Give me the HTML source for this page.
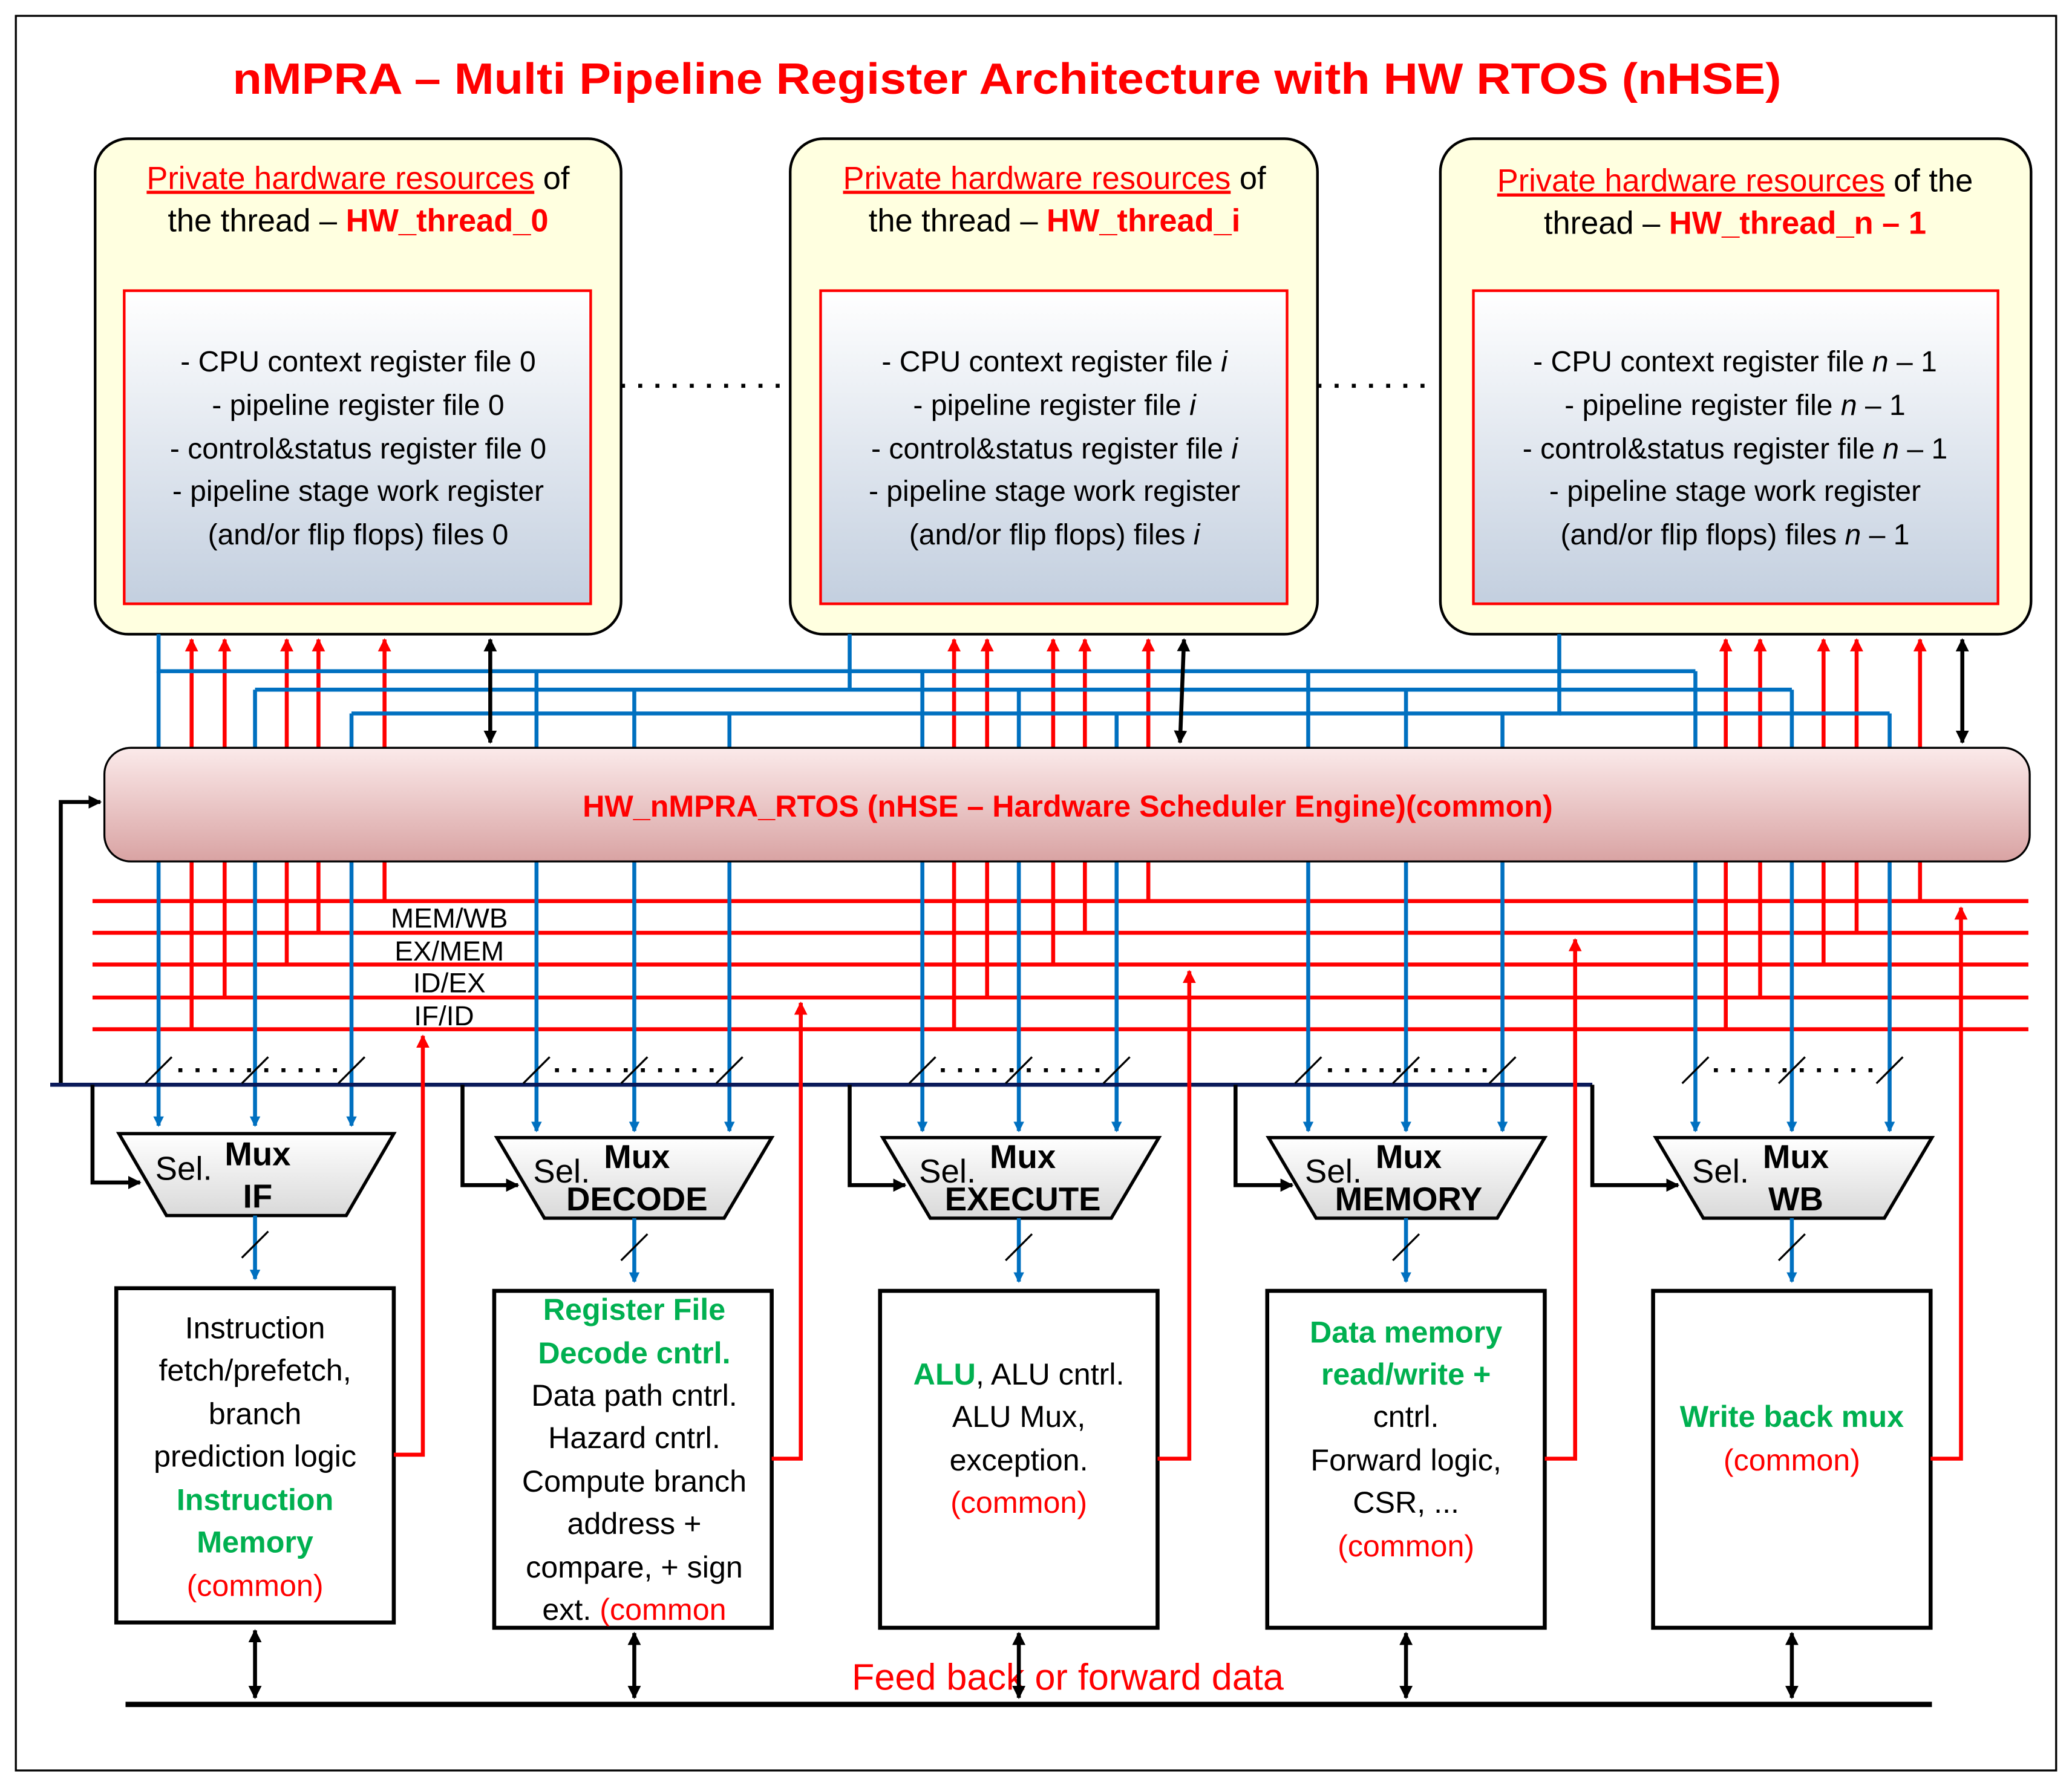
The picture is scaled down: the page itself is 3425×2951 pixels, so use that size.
<!DOCTYPE html>
<html><head><meta charset="utf-8"><style>html,body{margin:0;padding:0;background:#fff}svg{display:block}</style></head>
<body>
<svg xmlns="http://www.w3.org/2000/svg" width="3425" height="2951" viewBox="0 0 1568 1351" font-family="'Liberation Sans',sans-serif">
<defs>
<linearGradient id="gb" x1="0" y1="0" x2="0" y2="1"><stop offset="0" stop-color="#ffffff"/><stop offset="1" stop-color="#c3cfdf"/></linearGradient>
<linearGradient id="gr" x1="0" y1="0" x2="0" y2="1"><stop offset="0" stop-color="#fbeaea"/><stop offset="1" stop-color="#d9a3a3"/></linearGradient>
<linearGradient id="gm" x1="0" y1="0" x2="0" y2="1"><stop offset="0" stop-color="#ffffff"/><stop offset="1" stop-color="#d9d9d9"/></linearGradient>
<marker id="ab" markerWidth="8" markerHeight="8" refX="7" refY="4" orient="auto" markerUnits="userSpaceOnUse"><path d="M0,0 L8,4 L0,8 z" fill="#0070c0"/></marker>
<marker id="ar" markerWidth="10" markerHeight="10" refX="9" refY="5" orient="auto" markerUnits="userSpaceOnUse"><path d="M0,0 L10,5 L0,10 z" fill="#ff0000"/></marker>
<marker id="ak" markerWidth="10" markerHeight="10" refX="9" refY="5" orient="auto-start-reverse" markerUnits="userSpaceOnUse"><path d="M0,0 L10,5 L0,10 z" fill="#000"/></marker>
</defs>
<rect x="12" y="12" width="1544" height="1328" fill="#fff" stroke="#000" stroke-width="1.5"/>
<text x="176" y="71" font-size="33" font-weight="bold" fill="#ff0000" textLength="1172" lengthAdjust="spacingAndGlyphs">nMPRA – Multi Pipeline Register Architecture with HW RTOS (nHSE)</text>

<g stroke="#000" stroke-width="2" fill="#ffffe0">
<rect x="72" y="105" width="398" height="375" rx="25"/>
<rect x="598" y="105" width="399" height="375" rx="25"/>
<rect x="1090" y="105" width="447" height="375" rx="25"/>
</g>
<g stroke="#ff0000" stroke-width="2" fill="url(#gb)">
<rect x="94" y="220" width="353" height="237"/>
<rect x="621" y="220" width="353" height="237"/>
<rect x="1115" y="220" width="397" height="237"/>
</g>
<g font-size="24" text-anchor="middle">
<text x="271" y="143"><tspan fill="#ff0000" text-decoration="underline">Private hardware resources</tspan> of</text>
<text x="271" y="175">the thread – <tspan fill="#ff0000" font-weight="bold">HW_thread_0</tspan></text>
<text x="798" y="143"><tspan fill="#ff0000" text-decoration="underline">Private hardware resources</tspan> of</text>
<text x="798" y="175">the thread – <tspan fill="#ff0000" font-weight="bold">HW_thread_i</tspan></text>
<text x="1313" y="145"><tspan fill="#ff0000" text-decoration="underline">Private hardware resources</tspan> of the</text>
<text x="1313" y="177">thread – <tspan fill="#ff0000" font-weight="bold">HW_thread_n – 1</tspan></text>
</g>
<g font-size="22" text-anchor="middle">
<text x="271" y="281">- CPU context register file 0</text>
<text x="271" y="314">- pipeline register file 0</text>
<text x="271" y="347">- control&amp;status register file 0</text>
<text x="271" y="379">- pipeline stage work register</text>
<text x="271" y="412">(and/or flip flops) files 0</text>
<text x="798" y="281">- CPU context register file <tspan font-style="italic">i</tspan></text>
<text x="798" y="314">- pipeline register file <tspan font-style="italic">i</tspan></text>
<text x="798" y="347">- control&amp;status register file <tspan font-style="italic">i</tspan></text>
<text x="798" y="379">- pipeline stage work register</text>
<text x="798" y="412">(and/or flip flops) files <tspan font-style="italic">i</tspan></text>
<text x="1313" y="281">- CPU context register file <tspan font-style="italic">n</tspan> – 1</text>
<text x="1313" y="314">- pipeline register file <tspan font-style="italic">n</tspan> – 1</text>
<text x="1313" y="347">- control&amp;status register file <tspan font-style="italic">n</tspan> – 1</text>
<text x="1313" y="379">- pipeline stage work register</text>
<text x="1313" y="412">(and/or flip flops) files <tspan font-style="italic">n</tspan> – 1</text>
</g>
<g stroke="#000" stroke-width="3" stroke-dasharray="3 10" fill="none">
<line x1="470" y1="292" x2="592" y2="292"/><line x1="997" y1="292" x2="1085" y2="292"/>
</g>

<g stroke="#ff0000" stroke-width="3">
<line x1="70" y1="682" x2="1535" y2="682"/><line x1="70" y1="706" x2="1535" y2="706"/>
<line x1="70" y1="730" x2="1535" y2="730"/><line x1="70" y1="755" x2="1535" y2="755"/>
<line x1="70" y1="779" x2="1535" y2="779"/>
</g>
<g font-size="21" text-anchor="middle">
<text x="340" y="702">MEM/WB</text><text x="340" y="727">EX/MEM</text>
<text x="340" y="751">ID/EX</text><text x="336" y="776">IF/ID</text>
</g>

<g stroke="#ff0000" stroke-width="3" fill="none" marker-end="url(#ar)">
<line x1="145" y1="779" x2="145" y2="484"/><line x1="170" y1="755" x2="170" y2="484"/>
<line x1="217" y1="730" x2="217" y2="484"/><line x1="241" y1="706" x2="241" y2="484"/>
<line x1="291" y1="682" x2="291" y2="484"/>
<line x1="722" y1="779" x2="722" y2="484"/><line x1="747" y1="755" x2="747" y2="484"/>
<line x1="797" y1="730" x2="797" y2="484"/><line x1="821" y1="706" x2="821" y2="484"/>
<line x1="869" y1="682" x2="869" y2="484"/>
<line x1="1306" y1="779" x2="1306" y2="484"/><line x1="1332" y1="755" x2="1332" y2="484"/>
<line x1="1380" y1="730" x2="1380" y2="484"/><line x1="1405" y1="706" x2="1405" y2="484"/>
<line x1="1453" y1="682" x2="1453" y2="484"/>
</g>

<g stroke="#0070c0" stroke-width="3" fill="none">
<polyline points="120,480 120,508 1283,508"/>
<polyline points="643,480 643,522 193,522"/><line x1="643" y1="522" x2="1356" y2="522"/>
<polyline points="1180,480 1180,540 266,540"/><line x1="1180" y1="540" x2="1430" y2="540"/>
</g>
<g stroke="#0070c0" stroke-width="3" fill="none" marker-end="url(#ab)">
<line x1="120" y1="508" x2="120" y2="852"/><line x1="193" y1="522" x2="193" y2="852"/><line x1="266" y1="540" x2="266" y2="852"/>
<line x1="406" y1="508" x2="406" y2="856"/><line x1="480" y1="522" x2="480" y2="856"/><line x1="552" y1="540" x2="552" y2="856"/>
<line x1="698" y1="508" x2="698" y2="856"/><line x1="771" y1="522" x2="771" y2="856"/><line x1="845" y1="540" x2="845" y2="856"/>
<line x1="990" y1="508" x2="990" y2="856"/><line x1="1064" y1="522" x2="1064" y2="856"/><line x1="1137" y1="540" x2="1137" y2="856"/>
<line x1="1283" y1="508" x2="1283" y2="856"/><line x1="1356" y1="522" x2="1356" y2="856"/><line x1="1430" y1="540" x2="1430" y2="856"/>
</g>

<g stroke="#000" stroke-width="3" marker-start="url(#ak)" marker-end="url(#ak)">
<line x1="371" y1="484" x2="371" y2="562"/><line x1="896" y1="484" x2="893" y2="562"/><line x1="1485" y1="484" x2="1485" y2="562"/>
</g>

<rect x="79" y="566" width="1457" height="86" rx="20" fill="url(#gr)" stroke="#000" stroke-width="1.5"/>
<text x="808" y="618" font-size="23" font-weight="bold" fill="#ff0000" text-anchor="middle">HW_nMPRA_RTOS (nHSE – Hardware Scheduler Engine)(common)</text>
<g stroke="#000" stroke-width="3" fill="none">
<polyline points="46,821 46,607 76,607" marker-end="url(#ak)"/>
</g>

<g stroke="#0a1a5a" stroke-width="3" fill="none">
<line x1="38" y1="821" x2="1205" y2="821"/>
<polyline points="70,821 70,895 106,895" stroke="#000" marker-end="url(#ak)"/>
<polyline points="350,821 350,897 392,897" stroke="#000" marker-end="url(#ak)"/>
<polyline points="643,821 643,897 685,897" stroke="#000" marker-end="url(#ak)"/>
<polyline points="935,821 935,897 978,897" stroke="#000" marker-end="url(#ak)"/>
<polyline points="1205,821 1205,897 1270,897" stroke="#000" marker-end="url(#ak)"/>
</g>
<g stroke="#000" stroke-width="3" stroke-dasharray="3 10"><line x1="135" y1="810" x2="265" y2="810"/><line x1="420" y1="810" x2="550" y2="810"/><line x1="712" y1="810" x2="842" y2="810"/><line x1="1005" y1="810" x2="1135" y2="810"/><line x1="1297" y1="810" x2="1427" y2="810"/></g>
<g stroke="#000" stroke-width="1.5">
<line x1="110" y1="820" x2="130" y2="800"/><line x1="183" y1="820" x2="203" y2="800"/><line x1="256" y1="820" x2="276" y2="800"/>
<line x1="396" y1="820" x2="416" y2="800"/><line x1="470" y1="820" x2="490" y2="800"/><line x1="542" y1="820" x2="562" y2="800"/>
<line x1="688" y1="820" x2="708" y2="800"/><line x1="761" y1="820" x2="781" y2="800"/><line x1="835" y1="820" x2="855" y2="800"/>
<line x1="980" y1="820" x2="1000" y2="800"/><line x1="1054" y1="820" x2="1074" y2="800"/><line x1="1127" y1="820" x2="1147" y2="800"/>
<line x1="1273" y1="820" x2="1293" y2="800"/><line x1="1346" y1="820" x2="1366" y2="800"/><line x1="1420" y1="820" x2="1440" y2="800"/>
</g>

<g stroke="#000" stroke-width="2.5" fill="url(#gm)">
<polygon points="90,858 298,858 262,920 126,920"/>
<polygon points="376,861 584,861 548,922 412,922"/>
<polygon points="668,861 877,861 841,922 704,922"/>
<polygon points="960,861 1169,861 1133,922 996,922"/>
<polygon points="1253,861 1462,861 1426,922 1289,922"/>
</g>
<g font-size="25" text-anchor="middle">
<text x="139" y="893">Sel.</text><text x="195" y="882" font-weight="bold">Mux</text><text x="195" y="914" font-weight="bold">IF</text>
<text x="425" y="895">Sel.</text><text x="482" y="884" font-weight="bold">Mux</text><text x="482" y="916" font-weight="bold">DECODE</text>
<text x="717" y="895">Sel.</text><text x="774" y="884" font-weight="bold">Mux</text><text x="774" y="916" font-weight="bold">EXECUTE</text>
<text x="1009" y="895">Sel.</text><text x="1066" y="884" font-weight="bold">Mux</text><text x="1066" y="916" font-weight="bold">MEMORY</text>
<text x="1302" y="895">Sel.</text><text x="1359" y="884" font-weight="bold">Mux</text><text x="1359" y="916" font-weight="bold">WB</text>
</g>
<g stroke="#0070c0" stroke-width="3" marker-end="url(#ab)">
<line x1="193" y1="920" x2="193" y2="968"/><line x1="480" y1="922" x2="480" y2="970"/><line x1="771" y1="922" x2="771" y2="970"/><line x1="1064" y1="922" x2="1064" y2="970"/><line x1="1356" y1="922" x2="1356" y2="970"/>
</g>
<g stroke="#000" stroke-width="1.5">
<line x1="183" y1="952" x2="203" y2="932"/><line x1="470" y1="954" x2="490" y2="934"/><line x1="761" y1="954" x2="781" y2="934"/><line x1="1054" y1="954" x2="1074" y2="934"/><line x1="1346" y1="954" x2="1366" y2="934"/>
</g>

<g stroke="#000" stroke-width="3" fill="#fff">
<rect x="88" y="975" width="210" height="253"/><rect x="374" y="977" width="210" height="255"/>
<rect x="666" y="977" width="210" height="255"/><rect x="959" y="977" width="210" height="255"/>
<rect x="1251" y="977" width="210" height="255"/>
</g>
<g stroke="#ff0000" stroke-width="3" fill="none" marker-end="url(#ar)">
<polyline points="298,1101 320,1101 320,784"/>
<polyline points="584,1104 606,1104 606,759"/>
<polyline points="876,1104 900,1104 900,735"/>
<polyline points="1169,1104 1192,1104 1192,711"/>
<polyline points="1461,1104 1484,1104 1484,687"/>
</g>
<g font-size="23" text-anchor="middle">
<text x="193" y="1013">Instruction</text><text x="193" y="1045">fetch/prefetch,</text><text x="193" y="1078">branch</text><text x="193" y="1110">prediction logic</text>
<text x="193" y="1143" fill="#00b050" font-weight="bold">Instruction</text><text x="193" y="1175" fill="#00b050" font-weight="bold">Memory</text><text x="193" y="1208" fill="#ff0000">(common)</text>
<text x="480" y="999" fill="#00b050" font-weight="bold">Register File</text><text x="480" y="1032" fill="#00b050" font-weight="bold">Decode cntrl.</text>
<text x="480" y="1064">Data path cntrl.</text><text x="480" y="1096">Hazard cntrl.</text><text x="480" y="1129">Compute branch</text><text x="480" y="1161">address +</text><text x="480" y="1194">compare, + sign</text>
<text x="480" y="1226">ext. <tspan fill="#ff0000">(common</tspan></text>
<text x="771" y="1048"><tspan fill="#00b050" font-weight="bold">ALU</tspan>, ALU cntrl.</text><text x="771" y="1080">ALU Mux,</text><text x="771" y="1113">exception.</text><text x="771" y="1145" fill="#ff0000">(common)</text>
<text x="1064" y="1016" fill="#00b050" font-weight="bold">Data memory</text><text x="1064" y="1048" fill="#00b050" font-weight="bold">read/write +</text>
<text x="1064" y="1080">cntrl.</text><text x="1064" y="1113">Forward logic,</text><text x="1064" y="1145">CSR, ...</text><text x="1064" y="1178" fill="#ff0000">(common)</text>
<text x="1356" y="1080" fill="#00b050" font-weight="bold">Write back mux</text><text x="1356" y="1113" fill="#ff0000">(common)</text>
</g>

<line x1="95" y1="1290" x2="1462" y2="1290" stroke="#000" stroke-width="4"/>
<text x="808" y="1279" font-size="28" fill="#ff0000" text-anchor="middle">Feed back or forward data</text>
<g stroke="#000" stroke-width="3" marker-start="url(#ak)" marker-end="url(#ak)">
<line x1="193" y1="1234" x2="193" y2="1285"/><line x1="480" y1="1236" x2="480" y2="1285"/><line x1="771" y1="1236" x2="771" y2="1285"/><line x1="1064" y1="1236" x2="1064" y2="1285"/><line x1="1356" y1="1236" x2="1356" y2="1285"/>
</g>
</svg>
</body></html>
